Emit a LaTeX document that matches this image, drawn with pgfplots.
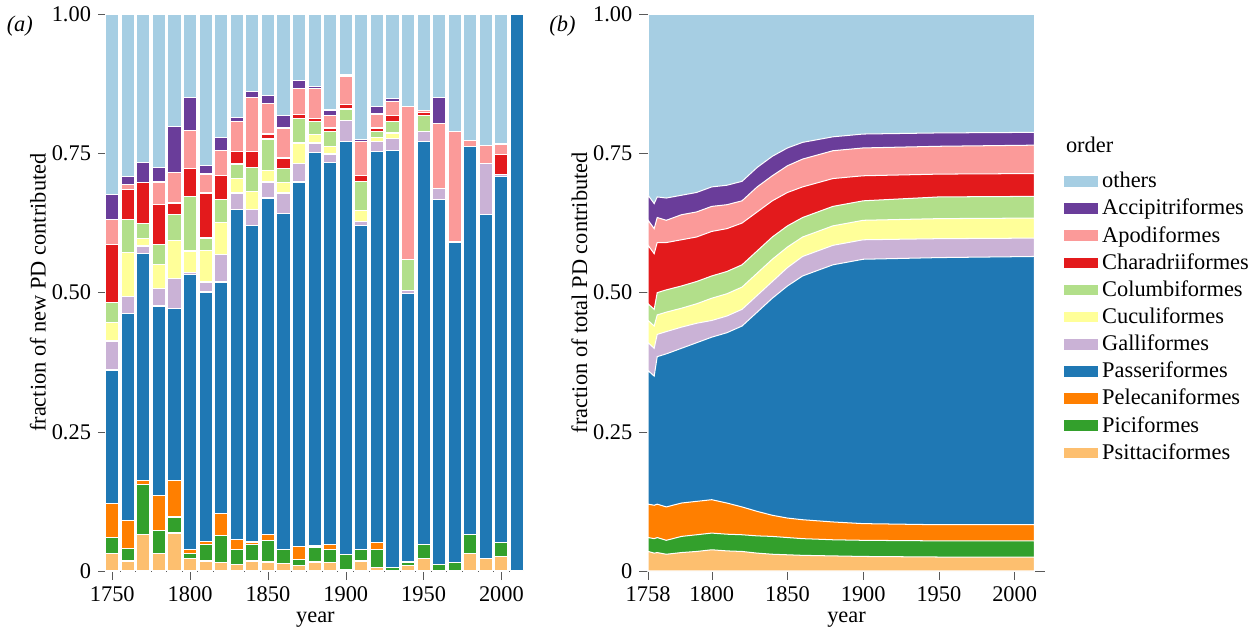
\documentclass[border=0pt]{standalone}
\usepackage{pgfplots}
\pgfplotsset{compat=1.18}
\usepackage{pgfplotstable}
\usepackage{fontspec}
\setmainfont{Liberation Serif}
\definecolor{cOth}{HTML}{A6CEE3}
\definecolor{cAcc}{HTML}{6A3D9A}
\definecolor{cApo}{HTML}{FB9A99}
\definecolor{cCha}{HTML}{E31A1C}
\definecolor{cCol}{HTML}{B2DF8A}
\definecolor{cCuc}{HTML}{FFFF99}
\definecolor{cGal}{HTML}{CAB2D6}
\definecolor{cPas}{HTML}{1F78B4}
\definecolor{cPel}{HTML}{FF7F00}
\definecolor{cPic}{HTML}{33A02C}
\definecolor{cPsi}{HTML}{FDBF6F}
\pgfplotstableread{
year psi pic pel pas gal cuc col cha apo acc oth
1750 .032 .060 .121 .361 .413 .447 .483 .586 .632 .676 1
1760 .018 .041 .090 .463 .493 .572 .632 .685 .695 .708 1
1770 .065 .155 .163 .571 .584 .597 .624 .698 .698 .734 1
1780 .032 .073 .135 .476 .507 .550 .586 .659 .699 .725 1
1790 .068 .097 .163 .472 .525 .594 .641 .661 .716 .798 1
1800 .023 .032 .039 .533 .536 .575 .673 .723 .792 .851 1
1810 .018 .047 .053 .501 .519 .576 .598 .679 .713 .729 1
1820 .015 .063 .103 .519 .569 .626 .668 .710 .755 .779 1
1830 .012 .039 .057 .649 .679 .705 .731 .753 .807 .815 1
1840 .018 .048 .052 .620 .650 .682 .725 .754 .850 .862 1
1850 .016 .054 .066 .670 .699 .719 .776 .785 .840 .854 1
1860 .013 .038 .038 .642 .679 .698 .723 .742 .796 .818 1
1870 .010 .020 .044 .699 .732 .769 .813 .820 .867 .881 1
1880 .016 .043 .046 .752 .769 .784 .807 .813 .867 .870 1
1890 .015 .038 .048 .734 .749 .763 .790 .796 .818 .828 1
1900 .003 .030 .030 .771 .809 .809 .830 .838 .888 .891 1
1910 .018 .039 .039 .620 .628 .647 .700 .711 .771 .775 1
1920 .006 .038 .051 .754 .772 .779 .789 .796 .821 .834 1
1930 .001 .006 .006 .755 .777 .787 .807 .818 .844 .849 1
1940 .010 .016 .016 .499 .504 .504 .559 .559 .834 .834 1
1950 .023 .047 .047 .772 .789 .789 .818 .823 .827 .827 1
1960 .000 .012 .012 .667 .687 .687 .687 .687 .804 .851 1
1970 .000 .015 .015 .591 .591 .591 .591 .591 .790 .790 1
1980 .032 .066 .066 .763 .763 .763 .763 .763 .773 .773 1
1990 .023 .023 .023 .641 .732 .732 .732 .732 .765 .765 1
2000 .026 .051 .051 .708 .712 .712 .712 .748 .767 .767 1
2010 0 0 0 1 1 1 1 1 1 1 1
}\bars
\pgfplotstableread{
year psi pic pel pas gal cuc col cha apo acc oth
1758 .035 .060 .120 .360 .410 .450 .480 .585 .630 .675 1
1762 .032 .058 .118 .350 .400 .440 .470 .570 .615 .660 1
1764 .033 .060 .120 .385 .425 .460 .500 .590 .635 .672 1
1770 .030 .055 .115 .390 .430 .465 .505 .590 .630 .670 1
1780 .033 .062 .122 .400 .438 .472 .512 .595 .640 .675 1
1790 .035 .065 .125 .410 .445 .480 .520 .600 .645 .680 1
1800 .038 .068 .128 .420 .450 .490 .530 .610 .655 .690 1
1810 .036 .066 .122 .428 .458 .498 .538 .615 .658 .693 1
1820 .035 .065 .115 .440 .470 .510 .550 .625 .665 .700 1
1830 .032 .063 .107 .465 .495 .535 .575 .645 .690 .725 1
1840 .030 .062 .100 .490 .520 .560 .600 .665 .710 .745 1
1850 .029 .060 .095 .512 .545 .582 .620 .680 .728 .760 1
1860 .028 .058 .092 .530 .565 .600 .635 .690 .740 .770 1
1880 .027 .056 .088 .550 .585 .620 .655 .705 .755 .780 1
1900 .026 .055 .085 .560 .595 .630 .665 .710 .760 .785 1
1950 .025 .054 .083 .563 .597 .633 .672 .713 .763 .787 1
2013 .025 .054 .083 .565 .598 .634 .673 .714 .765 .788 1
}\areas
\begin{document}
\begin{tikzpicture}
\pgfplotsset{every axis/.append style={
  scale only axis, axis lines=left, axis line style={-,gray!70!black},
  ymin=0, ymax=1, ytick={0,0.25,0.5,0.75,1},
  yticklabels={0,0.25,0.50,0.75,1.00},
  tick style={gray!70!black}, tick align=outside,
  /pgf/number format/assume math mode=true,
  /pgf/number format/1000 sep={},
  tick label style={font=\fontsize{11}{12}\selectfont},
  label style={font=\fontsize{11}{12}\selectfont},
  xlabel={year}, xlabel style={yshift=2pt},
  clip=false}}
\begin{axis}[at={(54pt,0pt)}, anchor=origin, width=205pt, height=273.5pt,
  xmin=1746.5, xmax=2014.5, xtick={1750,1800,1850,1900,1950,2000},
  ylabel={fraction of new PD contributed}, ylabel style={yshift=-4pt}]
\foreach \c/\k in {oth/cOth,acc/cAcc,apo/cApo,cha/cCha,col/cCol,cuc/cCuc,gal/cGal,pas/cPas,pel/cPel,pic/cPic,psi/cPsi}{
  \edef\tmp{\noexpand\addplot[ybar, bar width=8.6, fill=\k, draw=white, line width=0.6pt] table[x=year,y=\c]{\noexpand\bars};}
  \tmp
}
\node[anchor=north east, font=\fontsize{11}{12}\selectfont\itshape] at (rel axis cs:-0.16,1.01) {(a)};
\end{axis}
\begin{axis}[at={(320pt,0pt)}, anchor=origin, width=195pt, height=273.5pt,
  xmin=1758, xmax=2020, xtick={1758,1800,1850,1900,1950,2000},
  ylabel={fraction of total PD contributed}, ylabel style={yshift=-4pt},
  legend style={at={(1.03,0.73)}, anchor=north west, draw=none, fill=none,
    font=\fontsize{11}{12}\selectfont, row sep=1.1pt,
    nodes={inner sep=1.5pt}},
  legend cell align=left, area legend]
\foreach \c/\k in {oth/cOth,acc/cAcc,apo/cApo,cha/cCha,col/cCol,cuc/cCuc,gal/cGal,pas/cPas,pel/cPel,pic/cPic,psi/cPsi}{
  \edef\tmp{\noexpand\addplot[fill=\k, draw=white, line width=0.5pt] table[x=year,y=\c]{\noexpand\areas} \noexpand\closedcycle;}
  \tmp
}
\legend{others,Accipitriformes,Apodiformes,Charadriiformes,Columbiformes,Cuculiformes,Galliformes,Passeriformes,Pelecaniformes,Piciformes,Psittaciformes}
\node[anchor=north east, font=\fontsize{11}{12}\selectfont\itshape] at (rel axis cs:-0.165,1.01) {(b)};
\node[anchor=west, font=\fontsize{11}{12}\selectfont] at (rel axis cs:1.035,0.765) {order};
\end{axis}
\end{tikzpicture}
\end{document}
